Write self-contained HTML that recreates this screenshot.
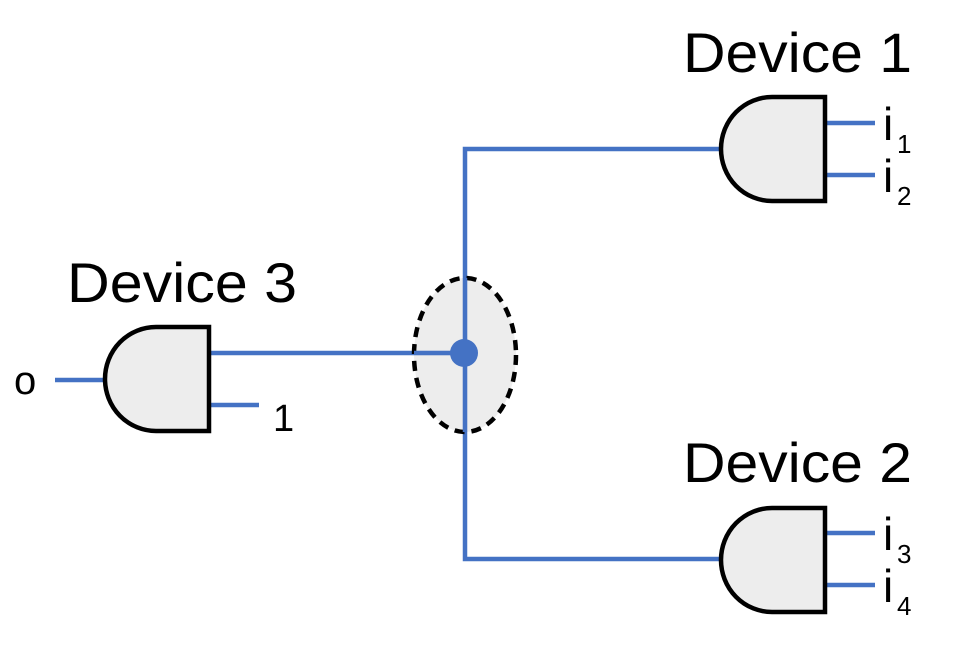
<!DOCTYPE html>
<html><head><style>
html,body{margin:0;padding:0;background:#fff;}
svg text{font-family:"Liberation Sans",sans-serif;fill:#000;}
</style></head><body>
<svg width="972" height="648" viewBox="0 0 972 648" xmlns="http://www.w3.org/2000/svg">
<g stroke="#4472c4" stroke-width="4.5" fill="none">
<polyline points="721,149 465,149 465,559 721,559"/>
<line x1="209" y1="353" x2="465" y2="353"/>
<line x1="209" y1="405" x2="259" y2="405"/>
<line x1="55" y1="380" x2="105" y2="380"/>
<line x1="825" y1="123" x2="875" y2="123"/>
<line x1="825" y1="175" x2="875" y2="175"/>
<line x1="825" y1="533" x2="875" y2="533"/>
<line x1="825" y1="585" x2="875" y2="585"/>
</g>
<ellipse cx="465" cy="355" rx="51" ry="77" fill="#e8e8e8" fill-opacity="0.8" stroke="#000" stroke-width="4.5" stroke-dasharray="10,7"/>
<line x1="465" y1="278" x2="465" y2="432" stroke="#4472c4" stroke-width="4.5"/>
<line x1="414" y1="353" x2="465" y2="353" stroke="#4472c4" stroke-width="4.5"/>
<circle cx="464" cy="353" r="14" fill="#4472c4"/>
<g fill="#ededed" stroke="#000" stroke-width="4.5">
<path d="M825,97 L772,97 A51,52 0 0 0 772,201 L825,201 Z"/>
<path d="M825,508 L772,508 A51,52 0 0 0 772,612 L825,612 Z"/>
<path d="M209,327 L156,327 A51,52 0 0 0 156,431 L209,431 Z"/>
</g>
<text x="683" y="72" font-size="56" textLength="229" lengthAdjust="spacingAndGlyphs">Device 1</text>
<text x="683" y="482" font-size="56" textLength="229" lengthAdjust="spacingAndGlyphs">Device 2</text>
<text x="67" y="302" font-size="56" textLength="230" lengthAdjust="spacingAndGlyphs">Device 3</text>
<text x="14" y="394" font-size="40">o</text>
<text x="273" y="431" font-size="38">1</text>
<text x="883" y="140" font-size="46">i</text><text x="897" y="153" font-size="26">1</text>
<text x="883" y="192" font-size="46">i</text><text x="897" y="205" font-size="26">2</text>
<text x="883" y="550" font-size="46">i</text><text x="897" y="563" font-size="26">3</text>
<text x="883" y="602" font-size="46">i</text><text x="897" y="615" font-size="26">4</text>
</svg>
</body></html>
